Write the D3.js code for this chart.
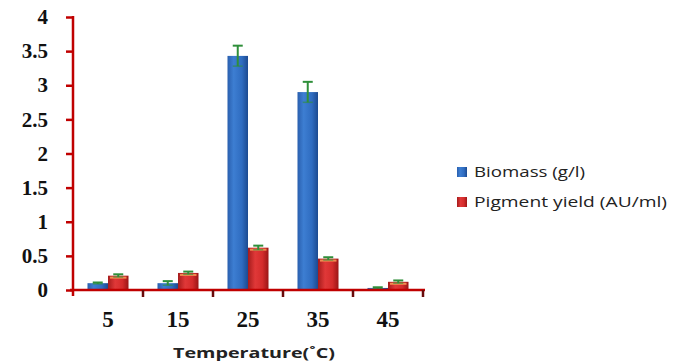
<!DOCTYPE html>
<html>
<head>
<meta charset="utf-8">
<script src="https://cdn.jsdelivr.net/npm/d3@7"></script>
<style>
  body { margin: 0; background: #fff; }
  svg { display: block; }
</style>
</head>
<body>
<script>
// chart values
var temps = ["5", "15", "25", "35", "45"];
var seriesNames = ["Biomass (g/l)", "Pigment yield (AU/ml)"];
var biomass = [0.10, 0.10, 3.43, 2.90, 0.03];
var biomassErr = [0.01, 0.03, 0.15, 0.15, 0.01];
var pigment = [0.21, 0.25, 0.62, 0.46, 0.12];
var pigmentErr = [0.02, 0.02, 0.03, 0.02, 0.02];
var yTicks = [0, 0.5, 1, 1.5, 2, 2.5, 3, 3.5, 4];
var xTitle = "Temperature(\u02DAC)";

var width = 680, height = 364;
var axis_color = "#c00000";
var err_color = "#2f8f3a";

var svg = d3.select("body").append("svg")
  .attr("width", width).attr("height", height);

var defs = svg.append("defs");
function grad(id, stops) {
  var g = defs.append("linearGradient").attr("id", id)
    .attr("x1", "0%").attr("x2", "100%").attr("y1", "0%").attr("y2", "0%");
  stops.forEach(function(s) {
    g.append("stop").attr("offset", s[0]).attr("stop-color", s[1]);
  });
}
grad("gBlue", [["0%", "#2a5fae"], ["30%", "#3d7ed2"], ["70%", "#2f6cc0"], ["100%", "#1c4a90"]]);
grad("gRed", [["0%", "#a51c1c"], ["35%", "#e03838"], ["70%", "#d42c2c"], ["100%", "#9a1616"]]);
var fills = ["url(#gBlue)", "url(#gRed)"];

var x0 = d3.scaleBand().domain(temps).range([73, 423]).padding(0);
var x1 = d3.scaleBand().domain(seriesNames).range([0, x0.bandwidth()])
  .paddingInner(0).paddingOuter(0.707);
var y = d3.scaleLinear().domain([0, 4]).range([290, 17]);

var rows = temps.map(function(t, i) {
  return [
    { cat: t, s: seriesNames[0], v: biomass[i], e: biomassErr[i], k: 0 },
    { cat: t, s: seriesNames[1], v: pigment[i], e: pigmentErr[i], k: 1 }
  ];
});

// bars
var groups = svg.append("g").selectAll("g").data(rows).enter().append("g")
  .attr("transform", function(d) { return "translate(" + x0(d[0].cat) + ",0)"; });

groups.selectAll("rect").data(function(d) { return d; }).enter().append("rect")
  .attr("x", function(d) { return x1(d.s); })
  .attr("width", x1.bandwidth())
  .attr("y", function(d) { return y(d.v); })
  .attr("height", function(d) { return y(0) - y(d.v); })
  .attr("fill", function(d) { return fills[d.k]; });

// light rim on top of the red bars
groups.selectAll("line.rim").data(function(d) { return d.filter(function(e) { return e.k == 1; }); })
  .enter().append("line").attr("class", "rim")
  .attr("x1", function(d) { return x1(d.s) + 2; })
  .attr("x2", function(d) { return x1(d.s) + x1.bandwidth() - 2; })
  .attr("y1", function(d) { return y(d.v) + 2; })
  .attr("y2", function(d) { return y(d.v) + 2; })
  .attr("stroke", "#f08a50").attr("stroke-width", 2);

// error bars
var eb = groups.selectAll("g.err").data(function(d) { return d; }).enter()
  .append("g").attr("class", "err")
  .attr("transform", function(d) { return "translate(" + (x1(d.s) + x1.bandwidth() / 2) + ",0)"; });
eb.append("line")
  .attr("y1", function(d) { return y(d.v - d.e); })
  .attr("y2", function(d) { return y(d.v + d.e); })
  .attr("stroke", err_color).attr("stroke-width", 2);
eb.append("line")
  .attr("x1", -5).attr("x2", 5)
  .attr("y1", function(d) { return y(d.v + d.e); })
  .attr("y2", function(d) { return y(d.v + d.e); })
  .attr("stroke", err_color).attr("stroke-width", 2);
eb.append("line")
  .attr("x1", -5).attr("x2", 5)
  .attr("y1", function(d) { return y(d.v - d.e); })
  .attr("y2", function(d) { return y(d.v - d.e); })
  .attr("stroke", err_color).attr("stroke-width", 1.5).attr("opacity", 0.6);

// y axis
var yAxis = svg.append("g").attr("transform", "translate(73,0)")
  .call(d3.axisLeft(y).tickValues(yTicks).tickFormat(String)
        .tickSize(7).tickSizeOuter(0).tickPadding(18));
yAxis.select(".domain").remove();
yAxis.selectAll(".tick line").attr("stroke", axis_color).attr("stroke-width", 2.5);
yAxis.selectAll(".tick text")
  .attr("fill", "#111")
  .style("font-family", "'Liberation Serif', 'Times New Roman', serif")
  .style("font-weight", "bold")
  .style("font-size", "21px");
svg.append("line").attr("x1", 73).attr("x2", 73)
  .attr("y1", y(4) - 1).attr("y2", y(0) + 6)
  .attr("stroke", axis_color).attr("stroke-width", 2.5);

// x axis
svg.append("line").attr("x1", 70).attr("x2", 425)
  .attr("y1", y(0)).attr("y2", y(0))
  .attr("stroke", axis_color).attr("stroke-width", 2.5);
var bounds = temps.map(function(t) { return x0(t) + x0.bandwidth(); });
svg.append("g").selectAll("line").data(bounds).enter().append("line")
  .attr("x1", function(d) { return d; }).attr("x2", function(d) { return d; })
  .attr("y1", y(0)).attr("y2", y(0) + 7)
  .attr("stroke", "#6a0a0a").attr("stroke-width", 2.5);
svg.append("g").selectAll("text").data(temps).enter().append("text")
  .attr("x", function(d) { return x0(d) + x0.bandwidth() / 2; })
  .attr("y", 327)
  .attr("text-anchor", "middle")
  .attr("fill", "#111")
  .style("font-family", "'Liberation Serif', 'Times New Roman', serif")
  .style("font-weight", "bold")
  .style("font-size", "23px")
  .text(function(d) { return d; });

svg.append("text")
  .attr("x", 173).attr("y", 358)
  .attr("textLength", 162).attr("lengthAdjust", "spacingAndGlyphs")
  .attr("fill", "#222")
  .style("font-family", "'Open Sans', 'DejaVu Sans', sans-serif")
  .style("font-weight", "bold")
  .style("font-size", "14px")
  .text(xTitle);

// legend
var legendW = [111, 193];
var leg = svg.append("g").selectAll("g").data(seriesNames).enter().append("g")
  .attr("transform", function(d, i) { return "translate(457," + (167 + i * 30) + ")"; });
leg.append("rect").attr("width", 10).attr("height", 10)
  .attr("fill", function(d, i) { return fills[i]; });
leg.append("text")
  .attr("x", 17).attr("y", 10)
  .attr("textLength", function(d, i) { return legendW[i]; })
  .attr("lengthAdjust", "spacingAndGlyphs")
  .attr("fill", "#222")
  .style("font-family", "'Open Sans', 'DejaVu Sans', sans-serif")
  .style("font-size", "14px")
  .text(function(d) { return d; });
</script>
</body>
</html>
